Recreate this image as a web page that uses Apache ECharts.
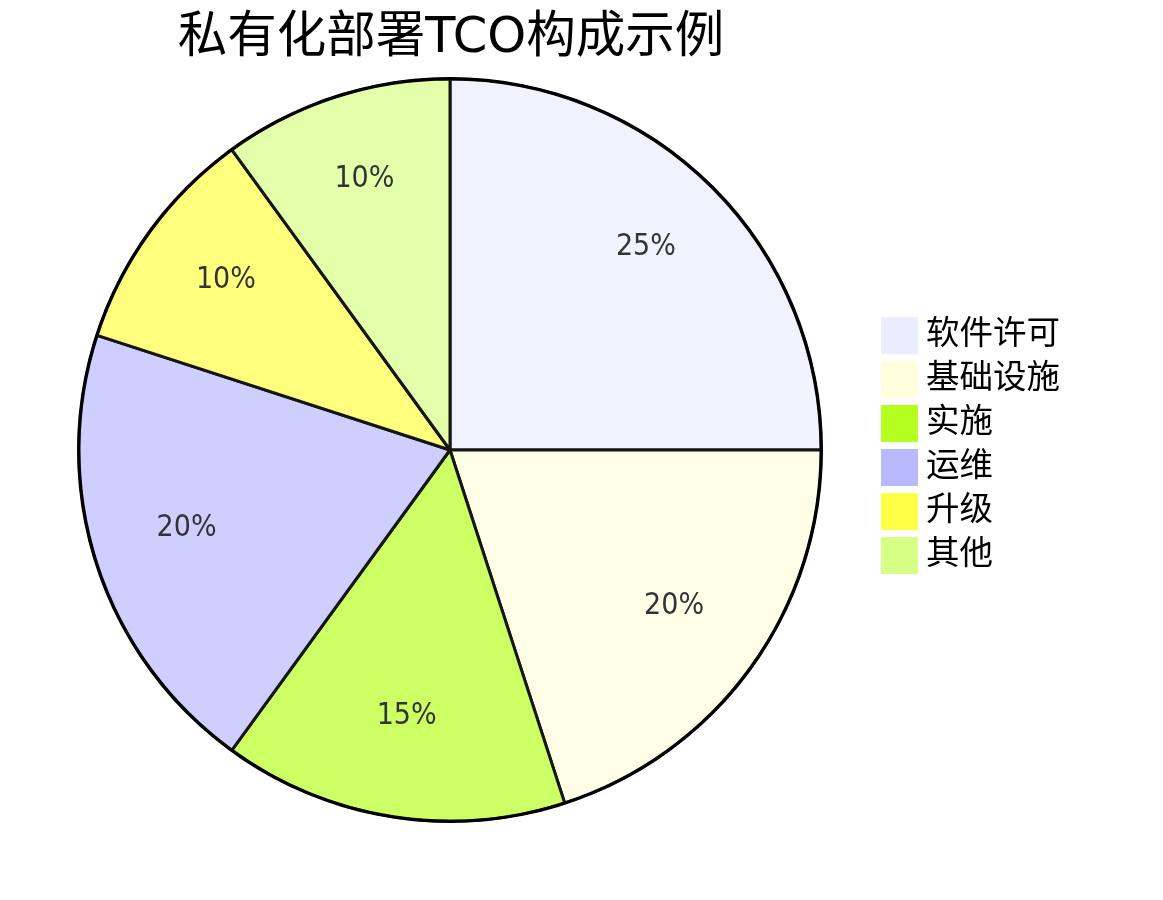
<!DOCTYPE html>
<html>
<head>
<meta charset="utf-8">
<script src="https://cdn.jsdelivr.net/npm/echarts@6/dist/echarts.min.js"></script>
<style>
html,body{margin:0;padding:0;background:#fff;}
#chart{width:1163px;height:900px;}
</style>
</head>
<body>
<div id="chart"></div>
<script>
const titleText = '私有化部署TCO构成示例';
const categories = ['软件许可', '基础设施', '实施', '运维', '升级', '其他'];
const values = [25, 20, 15, 20, 10, 10];
const legendColors = ['#ECECFF', '#ffffde', '#b5ff20', '#b9b9ff', '#ffff45', '#d7ff86'];
const sliceColors = ['#f2f2ff', '#ffffe8', '#cbff63', '#ceceff', '#ffff7d', '#e3ffaa'];

const cjk = "'DejaVu Sans', 'Noto Sans CJK SC', sans-serif";
const total = values.reduce((a, b) => a + b, 0);

const chart = echarts.init(document.getElementById('chart'), null, {renderer: 'canvas'});

const pieData = categories.map((c, i) => ({
  name: c, value: values[i],
  itemStyle: {color: sliceColors[i]}
}));
const labelData = categories.map((c, i) => ({
  name: c, value: values[i],
  itemStyle: {color: 'rgba(0,0,0,0)'}
}));

chart.setOption({
  animation: false,
  backgroundColor: '#ffffff',
  title: {
    text: titleText,
    left: 446,
    top: 9,
    textAlign: 'center',
    textStyle: {fontFamily: cjk, fontSize: 49.5, fontWeight: 'normal', color: '#000'}
  },
  legend: {
    orient: 'vertical',
    left: 876,
    top: 312,
    icon: 'rect',
    itemWidth: 37,
    itemHeight: 37,
    itemGap: 7,
    selectedMode: false,
    textStyle: {fontFamily: cjk, fontSize: 33.5, lineHeight: 37, color: '#000', padding: [0, 0, 0, 3]},
    data: categories.map((c, i) => ({name: c, itemStyle: {color: legendColors[i], borderWidth: 0}}))
  },
  series: [
    {
      type: 'pie',
      center: [450, 450],
      radius: [0, 371],
      startAngle: 90,
      clockwise: true,
      silent: true,
      label: {show: false},
      labelLine: {show: false},
      itemStyle: {borderColor: '#151515', borderWidth: 3},
      emphasis: {disabled: true},
      data: pieData
    },
    {
      type: 'pie',
      center: [450, 450],
      radius: [370, 373],
      silent: true,
      label: {show: false},
      labelLine: {show: false},
      itemStyle: {color: '#000'},
      emphasis: {disabled: true},
      legendHoverLink: false,
      data: [{name: '__ring', value: 1}]
    },
    {
      type: 'pie',
      center: [450, 443],
      radius: [0, 548],
      startAngle: 90,
      clockwise: true,
      silent: true,
      legendHoverLink: false,
      emphasis: {disabled: true},
      labelLine: {show: false},
      label: {
        show: true,
        position: 'inner',
        fontFamily: "'DejaVu Sans Condensed', 'DejaVu Sans', sans-serif",
        fontSize: 30,
        color: '#333',
        formatter: p => Math.round(p.value / total * 100) + '%'
      },
      data: labelData
    }
  ]
});
</script>
</body>
</html>
